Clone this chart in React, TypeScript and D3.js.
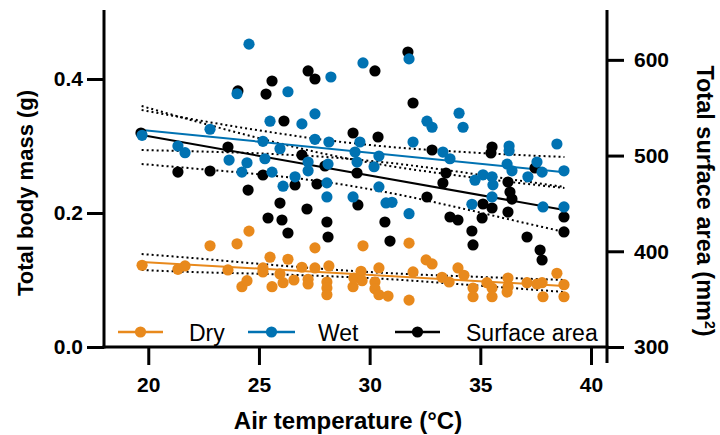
import { useEffect, useRef } from 'react'
import { select, scaleLinear, axisLeft, axisRight, axisBottom, line, curveMonotoneX, format } from 'd3'

const tempTicks = [20, 25, 30, 35, 40]
const massTicks = [0, 0.2, 0.4]
const areaTicks = [300, 400, 500, 600]
const legendLabels = ['Dry', 'Wet', 'Surface area']

// [air temperature, body mass g]
const dry: [number, number][] = [
  [19.72, 0.122], [21.34, 0.116], [21.66, 0.121], [22.79, 0.151], [24.01, 0.154], [24.55, 0.173],
  [23.6, 0.115], [24.23, 0.09], [24.46, 0.099], [25.5, 0.134], [25.18, 0.118], [25.18, 0.112],
  [25.59, 0.09], [25.95, 0.109], [26.09, 0.096], [26.31, 0.131], [26.58, 0.1], [26.94, 0.119],
  [27.22, 0.101], [27.22, 0.094], [27.53, 0.148], [27.53, 0.118], [28.16, 0.121], [28.07, 0.097],
  [28.07, 0.088], [28.07, 0.078], [29.25, 0.09], [29.7, 0.151], [31.78, 0.155], [32.55, 0.13],
  [32.82, 0.124], [30.42, 0.118], [31.96, 0.112], [29.61, 0.113], [29.29, 0.103], [29.66, 0.099],
  [30.24, 0.097], [30.24, 0.087], [30.42, 0.078], [30.83, 0.076], [31.78, 0.07], [33.27, 0.104],
  [33.59, 0.097], [33.99, 0.118], [34.26, 0.107], [34.67, 0.088], [34.67, 0.075], [35.3, 0.096],
  [35.53, 0.088], [35.53, 0.075], [36.25, 0.103], [36.25, 0.09], [36.21, 0.082], [37.11, 0.096],
  [37.56, 0.094], [37.79, 0.096], [37.83, 0.075], [38.46, 0.11], [38.78, 0.093], [38.78, 0.075],
]

const wet: [number, number][] = [
  [24.55, 0.452], [28.25, 0.403], [26.31, 0.381], [24.01, 0.378], [29.7, 0.424], [31.78, 0.43],
  [22.79, 0.325], [19.72, 0.316], [21.34, 0.3], [21.66, 0.29], [25.18, 0.307], [25.5, 0.337],
  [26.94, 0.333], [27.53, 0.348], [27.53, 0.31], [28.16, 0.306], [25.95, 0.296], [23.65, 0.279],
  [24.46, 0.275], [24.23, 0.261], [25.27, 0.281], [25.59, 0.261], [27.22, 0.276], [27.22, 0.263],
  [28.12, 0.273], [26.63, 0.254], [26.09, 0.24], [28.07, 0.245], [29.34, 0.291], [29.56, 0.306],
  [29.43, 0.276], [30.42, 0.285], [30.2, 0.269], [32.59, 0.337], [32.82, 0.328], [34.04, 0.349],
  [34.22, 0.328], [31.96, 0.306], [33.31, 0.291], [33.63, 0.281], [36.3, 0.3], [36.3, 0.293],
  [36.21, 0.273], [36.43, 0.263], [37.56, 0.276], [37.79, 0.261], [37.15, 0.254], [38.46, 0.303],
  [38.78, 0.263], [34.76, 0.249], [35.12, 0.257], [35.53, 0.254], [35.57, 0.242], [30.42, 0.239],
  [35.53, 0.224], [34.62, 0.213], [29.25, 0.224], [30.74, 0.215], [31.01, 0.216], [31.78, 0.199],
  [37.83, 0.209], [38.78, 0.209], [28.07, 0.224],
]

// [air temperature, surface area mm2]
const surface: [number, number][] = [
  [27.22, 588.4], [27.53, 580.0], [25.59, 577.9], [25.32, 564.3], [24.05, 567.5], [31.73, 608.2],
  [30.24, 588.4], [31.96, 554.9], [26.13, 536.1], [29.25, 523.6], [30.38, 519.4], [19.67, 523.6],
  [23.6, 508.9], [26.94, 500.6], [27.98, 489.1], [21.34, 482.8], [22.79, 483.9], [25.18, 479.7],
  [26.63, 469.3], [27.62, 470.3], [24.51, 464.0], [29.43, 481.8], [32.82, 505.8], [35.53, 508.9],
  [35.48, 502.7], [33.45, 481.8], [33.31, 471.3], [36.25, 472.4], [37.47, 487.0], [36.34, 461.9],
  [36.43, 454.6], [32.59, 456.7], [29.47, 448.4], [35.12, 449.4], [35.53, 445.2], [36.25, 441.0],
  [38.78, 435.8], [38.78, 420.2], [30.69, 430.6], [30.92, 410.7], [33.63, 435.8], [33.99, 432.7],
  [35.08, 434.8], [34.62, 421.2], [34.67, 406.6], [37.11, 414.9], [37.7, 401.3], [37.79, 390.9],
  [25.95, 450.4], [25.41, 434.8], [26.04, 432.7], [26.31, 419.1], [27.17, 444.2], [28.07, 430.6],
  [28.12, 414.9],
]

// regression lines (ends) and 95% bands
const fitTemps = [19.7, 38.8]
const dryFit = [0.127, 0.091]
const wetFit = [0.324, 0.261]
const surfaceFit = [521.5, 443.1]

const bandTemps = [19.7, 22, 25, 28, 31, 34, 36.5, 38.8]
const dryUpper = [0.1388, 0.1328, 0.1242, 0.1163, 0.11, 0.1058, 0.1027, 0.1]
const dryLower = [0.1149, 0.1119, 0.1093, 0.1058, 0.101, 0.0939, 0.0878, 0.0821]
const wetUpper = [0.3537, 0.3399, 0.3233, 0.309, 0.2984, 0.2915, 0.287, 0.2836]
const wetLower = [0.294, 0.2921, 0.289, 0.2836, 0.2745, 0.2616, 0.2497, 0.2388]
const surfaceUpper = [551.8, 536.7, 518.2, 501.6, 488.8, 479.1, 472.0, 466.1]
const surfaceLower = [491.2, 486.6, 480.5, 472.4, 460.6, 445.7, 432.3, 420.2]

const ORANGE = '#E8891C'
const BLUE = '#0072B2'
const BLACK = '#000000'
const FONT = '"Liberation Sans", Arial, sans-serif'

function App() {
  const svg_ref = useRef<SVGSVGElement>(null)
  const width = 720,
        height = 435

  useEffect(() => {
    const svg = select(svg_ref.current)
    svg.selectAll('*').remove()

    const x = scaleLinear([18, 40], [104, 591])
    const y = scaleLinear([0, 0.5], [347, 12])
    const y2 = scaleLinear([300, 650], [347, 12])
    const axisRightX = 607

    const plot = svg.append('g')

    const bandLine = (yy: any, vals: number[]) =>
      line<number>().x((_, i) => x(bandTemps[i])).y(d => yy(d)).curve(curveMonotoneX)(vals)
    const fitLine = (yy: any, vals: number[]) =>
      line<number>().x((_, i) => x(fitTemps[i])).y(d => yy(d))(vals)

    const groups: [any, number[], number[], number[], string][] = [
      [y2, surfaceFit, surfaceUpper, surfaceLower, BLACK],
      [y, wetFit, wetUpper, wetLower, BLUE],
      [y, dryFit, dryUpper, dryLower, ORANGE],
    ]
    groups.forEach(([yy, fit, up, lo, color]) => {
      ;[up, lo].forEach(b => {
        plot.append('path')
          .attr('d', bandLine(yy, b))
          .attr('fill', 'none')
          .attr('stroke', '#000')
          .attr('stroke-width', 2)
          .attr('stroke-dasharray', '2 3')
      })
      plot.append('path')
        .attr('d', fitLine(yy, fit))
        .attr('fill', 'none')
        .attr('stroke', color)
        .attr('stroke-width', 2)
    })

    const r = 5.6
    plot.selectAll('.s').data(surface).join('circle')
      .attr('cx', d => x(d[0])).attr('cy', d => y2(d[1])).attr('r', r).attr('fill', BLACK)
    plot.selectAll('.d').data(dry).join('circle')
      .attr('cx', d => x(d[0])).attr('cy', d => y(d[1])).attr('r', r).attr('fill', ORANGE)
    plot.selectAll('.w').data(wet).join('circle')
      .attr('cx', d => x(d[0])).attr('cy', d => y(d[1])).attr('r', r).attr('fill', BLUE)

    // axes
    const left = svg.append('g')
      .attr('transform', `translate(${x.range()[0]}, 0)`)
      .call(axisLeft(y).tickValues(massTicks).tickSize(17).tickSizeOuter(0).tickPadding(4)
        .tickFormat(format('.1f')))
    const right = svg.append('g')
      .attr('transform', `translate(${axisRightX}, 0)`)
      .call(axisRight(y2).tickValues(areaTicks).tickSize(17).tickSizeOuter(0).tickPadding(10)
        .tickFormat(d => String(d)))
    const bottom = svg.append('g')
      .attr('transform', `translate(0, ${y.range()[0]})`)
      .call(axisBottom(x).tickValues(tempTicks).tickSize(18).tickSizeOuter(0).tickPadding(12)
        .tickFormat(d => String(d)))

    ;[left, right, bottom].forEach(g => {
      g.select('.domain').remove()
      g.selectAll('.tick line').attr('stroke', '#000').attr('stroke-width', 3)
      g.selectAll('.tick text')
        .attr('fill', '#000')
        .style('font-family', FONT)
        .style('font-weight', 'bold')
        .style('font-size', '21px')
    })

    svg.append('line')
      .attr('x1', 104).attr('x2', 104).attr('y1', 10).attr('y2', 348.5)
      .attr('stroke', '#000').attr('stroke-width', 3)
    svg.append('line')
      .attr('x1', 102.5).attr('x2', axisRightX + 1.5).attr('y1', 347).attr('y2', 347)
      .attr('stroke', '#000').attr('stroke-width', 3)
    svg.append('line')
      .attr('x1', axisRightX).attr('x2', axisRightX).attr('y1', 10).attr('y2', 363)
      .attr('stroke', '#000').attr('stroke-width', 3)

    // titles
    svg.append('text')
      .attr('transform', 'translate(25, 193) rotate(-90)')
      .attr('text-anchor', 'middle').attr('dominant-baseline', 'central')
      .style('font-family', FONT).style('font-weight', 'bold').style('font-size', '22px')
      .text('Total body mass (g)')
    svg.append('text')
      .attr('x', 348).attr('y', 420)
      .attr('text-anchor', 'middle').attr('dominant-baseline', 'central')
      .style('font-family', FONT).style('font-weight', 'bold').style('font-size', '24px')
      .text('Air temperature (°C)')
    const rt = svg.append('text')
      .attr('transform', 'translate(697, 201) rotate(90)')
      .attr('text-anchor', 'middle')
      .style('font-family', FONT).style('font-weight', 'bold').style('font-size', '23.5px')
    rt.append('tspan').text('Total surface area (mm')
    rt.append('tspan').attr('dy', -8).style('font-size', '14px').text('2')
    rt.append('tspan').attr('dy', 8).text(')')

    // legend
    const legend = [
      { label: legendLabels[0], color: ORANGE, x0: 118, x1: 163, tx: 189 },
      { label: legendLabels[1], color: BLUE, x0: 248, x1: 295, tx: 318 },
      { label: legendLabels[2], color: BLACK, x0: 395, x1: 440, tx: 466 },
    ]
    const lg = svg.append('g')
    legend.forEach(l => {
      lg.append('line')
        .attr('x1', l.x0).attr('x2', l.x1).attr('y1', 332).attr('y2', 332)
        .attr('stroke', l.color).attr('stroke-width', 2.5)
      lg.append('circle')
        .attr('cx', (l.x0 + l.x1) / 2).attr('cy', 332).attr('r', r).attr('fill', l.color)
      lg.append('text')
        .attr('x', l.tx).attr('y', 340.5)
        .style('font-family', FONT).style('font-size', '23px')
        .text(l.label)
    })
  }, [])

  return (
    <svg ref={svg_ref} width={width} height={height} viewBox={`0 0 ${width} ${height}`}
      style={{ position: 'absolute', left: 0, top: 0, background: '#fff' }}></svg>
  )
}

export default App
